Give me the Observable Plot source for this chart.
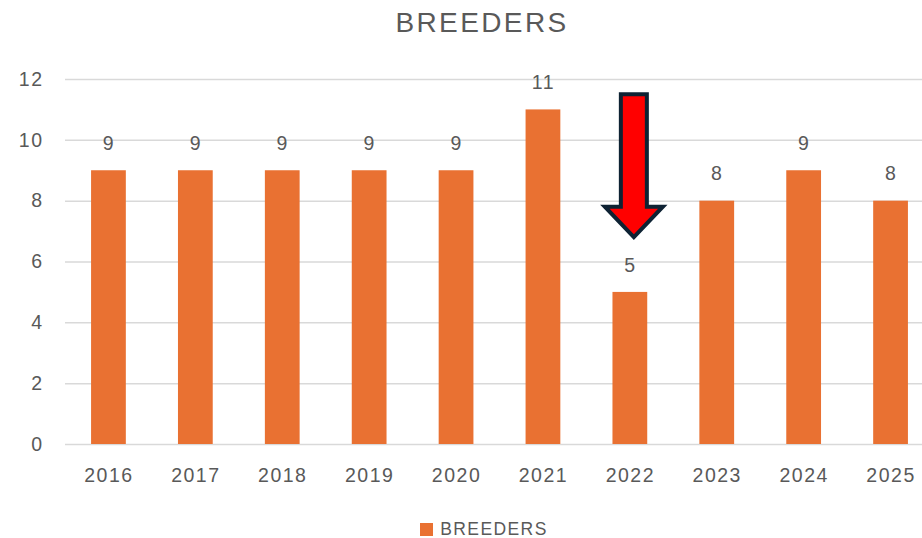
<!DOCTYPE html>
<html>
<head>
<meta charset="utf-8">
<script src="https://cdn.jsdelivr.net/npm/d3@7"></script>
<script src="https://cdn.jsdelivr.net/npm/@observablehq/plot@0.6"></script>
<style>
  html, body { margin: 0; padding: 0; background: #fff; }
  body { width: 922px; height: 538px; overflow: hidden; font-family: "Liberation Sans", Arial, sans-serif; color: #595959; }
  #title { height: 50px; line-height: 46px; font-size: 28px; letter-spacing: 2.4px; text-align: center; padding-left: 42px; box-sizing: border-box; }
  #legend { height: 38px; display: flex; align-items: center; justify-content: center; font-size: 17.5px; letter-spacing: 1.4px; padding-left: 46px; box-sizing: border-box; margin-top: 10px; }
  #legend .sw { width: 13px; height: 13px; background: #E97132; margin-right: 7px; }
  svg { display: block; }
</style>
</head>
<body>
<div id="title">BREEDERS</div>
<div id="chart"></div>
<div id="legend"><span class="sw"></span><span>BREEDERS</span></div>
<script>
const years = ["2016","2017","2018","2019","2020","2021","2022","2023","2024","2025"];
const breeders = [9, 9, 9, 9, 9, 11, 5, 8, 9, 8];
const yTicks = [0, 2, 4, 6, 8, 10, 12];
// annotation arrow: category, top value, head-base value, tip value
const arrowYear = ["2022"];
const arrowTop = [11.5];
const arrowHeadBase = [7.8];
const arrowTip = [6.8];

const data = years.map((y, i) => ({year: y, value: breeders[i]}));
const arrows = arrowYear.map((y, i) => ({year: y, top: arrowTop[i], base: arrowHeadBase[i], tip: arrowTip[i]}));

const arrowMark = (rows) => Plot.dot(rows, {
  x: "year", y: "top",
  render(index, scales, values, dims, context) {
    const g = d3.create("svg:g");
    for (const i of index) {
      const d = rows[i];
      const cx = scales.x(d.year) + scales.x.bandwidth() / 2 + 4;
      const yt = scales.y(d.top), yb = scales.y(d.base), yp = scales.y(d.tip);
      const sw = 13, hw = 29;
      const pts = [[cx - sw, yt], [cx + sw, yt], [cx + sw, yb], [cx + hw, yb], [cx, yp], [cx - hw, yb], [cx - sw, yb]];
      g.append("path")
        .attr("d", "M" + pts.map(p => p.join(",")).join("L") + "Z")
        .attr("fill", "#FF0000")
        .attr("stroke", "#0E2233")
        .attr("stroke-width", 4)
        .attr("stroke-linejoin", "miter");
    }
    return g.node();
  }
});

const chart = Plot.plot({
  width: 922,
  height: 450,
  marginTop: 29,
  marginBottom: 56,
  marginLeft: 65,
  marginRight: -12,
  style: {fontFamily: "'Liberation Sans', Arial, sans-serif", fontSize: "19.5px", letterSpacing: "1.5px", color: "#595959", background: "#fff", overflow: "visible"},
  x: {domain: years, paddingInner: 0.6, paddingOuter: 0.3, align: 0.5, round: false, label: null},
  y: {domain: [0, 12], ticks: yTicks, label: null},
  marks: [
    Plot.ruleY(yTicks, {stroke: "#D9D9D9", strokeWidth: 1.5}),
    Plot.barY(data, {x: "year", y: "value", fill: "#E97132"}),
    Plot.text(data, {x: "year", y: "value", text: d => String(d.value), dy: -27, lineAnchor: "middle", fill: "#595959", fontSize: 19.5}),
    arrowMark(arrows),
    Plot.axisX({tickSize: 0, tickPadding: 24, fontSize: 19.5, fill: "#595959"}),
    Plot.axisY({ticks: yTicks, tickSize: 0, tickPadding: 22, fontSize: 19.5, fill: "#595959"})
  ]
});
document.getElementById("chart").appendChild(chart);
</script>
</body>
</html>
